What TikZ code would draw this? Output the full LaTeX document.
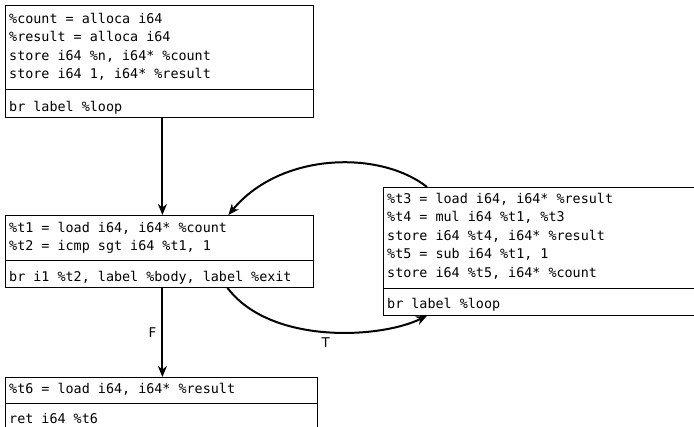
\documentclass[tikz,border=0pt]{standalone}
\usepackage{fontspec}
\newfontfamily\codefamily{DejaVu Sans Mono}
\newfontfamily\labelfamily{DejaVu Sans}
\usetikzlibrary{arrows.meta,calc}

% code text: monospaced, fixed line pitch
\newcommand\codefont{\codefamily\fontsize{13.4}{18.5}\selectfont}

\tikzset{
  block/.style={draw=black, line width=0.8pt, rectangle, inner sep=0pt,
    anchor=north west, minimum width=#1},
  code/.style={anchor=north west, inner sep=0pt, align=left, font=\codefont},
  rule/.style={draw=black, line width=0.8pt},
  flow/.style={line width=2pt, -{Stealth[length=11pt,width=9pt,inset=3.5pt]}},
  edgelabel/.style={font=\labelfamily\fontsize{13.4}{16}\selectfont, inner sep=5pt}
}

\begin{document}
\begin{tikzpicture}[x=1pt,y=1pt]
\useasboundingbox (0,0) rectangle (694,-427);

% entry block
\node[block=308pt, minimum height=112pt] (A) at (5,-5) {};
\node[code] (A1) at ($(A.north west)+(4,-5)$) {\codefont\strut\%count = alloca i64\\
  \%result = alloca i64\\
  store i64 \%n, i64* \%count\\
  store i64 1, i64* \%result};
\draw[rule] ([yshift=-84pt]A.north west) -- ([yshift=-84pt]A.north east);
\node[code] (A2) at ($(A.north west)+(4,-93)$) {\codefont\strut br label \%loop};

% loop header
\node[block=308pt, minimum height=72pt] (B) at (5,-215) {};
\node[code] (B1) at ($(B.north west)+(4,-4)$) {\codefont\strut\%t1 = load i64, i64* \%count\\
  \%t2 = icmp sgt i64 \%t1, 1};
\draw[rule] ([yshift=-45pt]B.north west) -- ([yshift=-45pt]B.north east);
\node[code] (B2) at ($(B.north west)+(4,-53)$) {\codefont\strut br i1 \%t2, label \%body, label \%exit};

% loop body
\node[block=320pt, minimum height=128pt] (C) at (383,-187) {};
\node[code] (C1) at ($(C.north west)+(4,-3)$) {\codefont\strut\%t3 = load i64, i64* \%result\\
  \%t4 = mul i64 \%t1, \%t3\\
  store i64 \%t4, i64* \%result\\
  \%t5 = sub i64 \%t1, 1\\
  store i64 \%t5, i64* \%count};
\draw[rule] ([yshift=-101pt]C.north west) -- ([yshift=-101pt]C.north east);
\node[code] (C2) at ($(C.north west)+(4,-108)$) {\codefont\strut br label \%loop};

% exit block
\node[block=312pt, minimum height=56pt] (D) at (5,-377) {};
\node[code] (D1) at ($(D.north west)+(4,-3)$) {\codefont\strut\%t6 = load i64, i64* \%result};
\draw[rule] ([yshift=-26pt]D.north west) -- ([yshift=-26pt]D.north east);
\node[code] (D2) at ($(D.north west)+(4,-33)$) {\codefont\strut ret i64 \%t6};

% control flow
\draw[flow] ([xshift=3pt]A.south) -- ([xshift=3pt]A.south |- B.north);
\draw[flow] ([xshift=3pt]B.south) -- node[edgelabel, left] {F}
  ([xshift=3pt]B.south |- D.north);
\draw[flow] ([xshift=68pt]B.south) .. controls +(43,-57) and +(-47,-23) ..
  node[edgelabel, below, pos=0.5] {T} ([xshift=44pt]C.south west);
\draw[flow] ([xshift=44pt]C.north west) .. controls +(-47,37) and +(52,63) ..
  ([xshift=69pt]B.north);
\end{tikzpicture}
\end{document}
